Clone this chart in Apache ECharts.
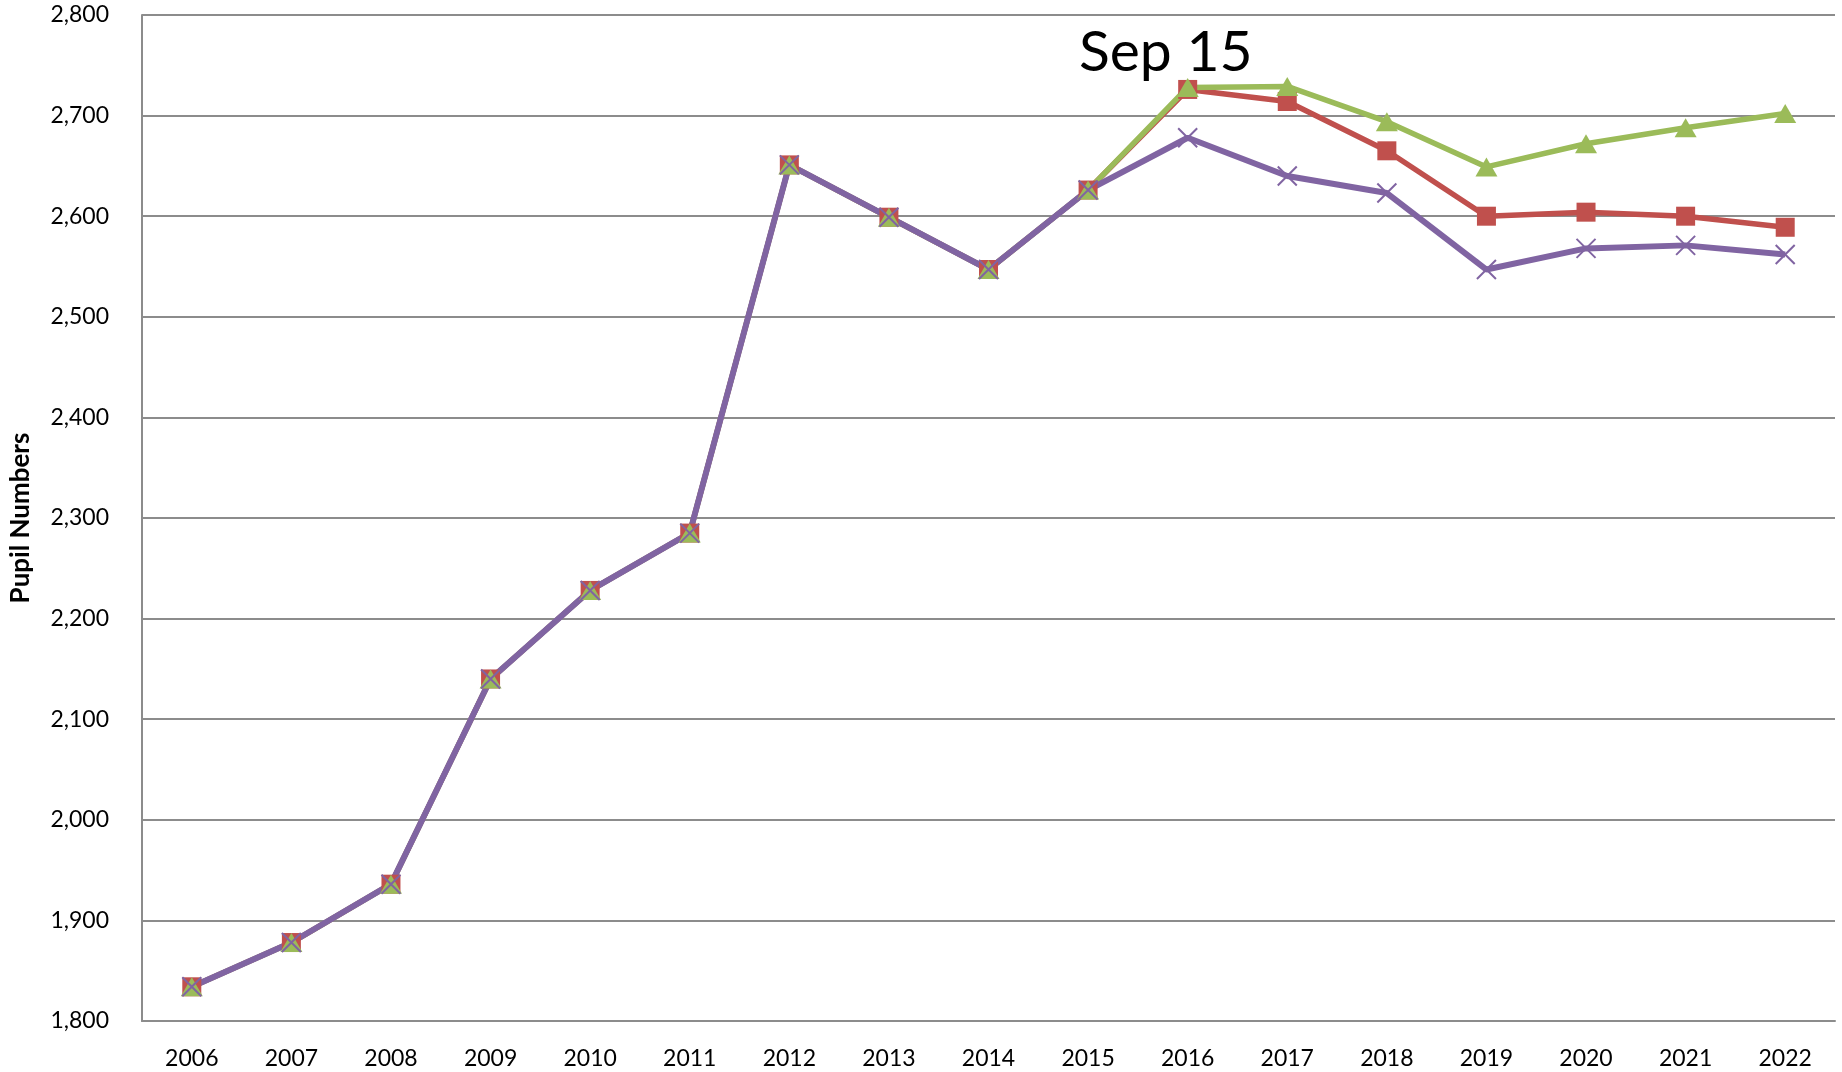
<!DOCTYPE html>
<html>
<head>
<meta charset="utf-8">
<title>Pupil Numbers</title>
<script src="https://cdn.jsdelivr.net/npm/echarts@6/dist/echarts.min.js"></script>
<style>
  html, body { margin: 0; padding: 0; background: #fff; }
  #chart { width: 1842px; height: 1072px; }
</style>
</head>
<body>
<div id="chart"></div>
<script>
// years on the x axis
const years = ['2006', '2007', '2008', '2009', '2010', '2011', '2012', '2013', '2014',
  '2015', '2016', '2017', '2018', '2019', '2020', '2021', '2022']

// pupil numbers
const redSeries = [1834, 1878, 1936, 2140, 2228, 2285, 2651, 2599, 2547,
  2626, 2726, 2714, 2665, 2600, 2604, 2600, 2589]
const greenSeries = [1834, 1878, 1936, 2140, 2228, 2285, 2651, 2599, 2547,
  2626, 2728, 2729, 2694, 2649, 2672, 2688, 2702]
const purpleSeries = [1834, 1878, 1936, 2140, 2228, 2285, 2651, 2599, 2547,
  2626, 2678, 2640, 2623, 2547, 2568, 2571, 2562]

const FONT = 'Lato'
const GRID_GREY = '#8c8c8c'

const chart = echarts.init(document.getElementById('chart'))

const option = {
  backgroundColor: '#fff',
  animation: false,
  title: {
    text: 'Sep 15',
    left: 1074,
    top: 19,
    textStyle: { fontFamily: FONT, fontSize: 57, fontWeight: 'normal', color: '#000' }
  },
  grid: {
    left: 141,
    right: 7,
    top: 15,
    bottom: 51
  },
  xAxis: {
    type: 'category',
    data: years,
    boundaryGap: true,
    axisTick: { show: false },
    axisLine: { lineStyle: { color: GRID_GREY, width: 2 } },
    axisLabel: {
      interval: 0,
      margin: 26,
      color: '#000',
      fontFamily: FONT,
      fontSize: 23
    }
  },
  yAxis: {
    type: 'value',
    min: 1800,
    max: 2800,
    interval: 100,
    name: 'Pupil Numbers',
    nameLocation: 'middle',
    nameRotate: 90,
    nameGap: 108,
    nameTextStyle: { fontFamily: FONT, fontSize: 26, fontWeight: 'bold', color: '#000' },
    axisLine: { show: true, lineStyle: { color: GRID_GREY, width: 2 } },
    axisTick: { show: false },
    splitLine: { lineStyle: { color: GRID_GREY, width: 2 } },
    axisLabel: {
      margin: 33,
      color: '#000',
      fontFamily: FONT,
      fontSize: 23,
      formatter: function (v) { return v.toLocaleString('en-US') }
    }
  },
  series: [
    {
      name: 'Red',
      type: 'line',
      data: redSeries,
      symbol: 'rect',
      symbolSize: 19,
      lineStyle: { color: '#C0504D', width: 5.5 },
      itemStyle: { color: '#C0504D' }
    },
    {
      name: 'Green',
      type: 'line',
      data: greenSeries,
      symbol: 'triangle',
      symbolSize: [22, 19],
      lineStyle: { color: '#9BBB59', width: 5.5 },
      itemStyle: { color: '#9BBB59' }
    },
    {
      name: 'Purple',
      type: 'line',
      data: purpleSeries,
      symbol: 'path://M0,0L10,10M10,0L0,10',
      symbolSize: 19,
      lineStyle: { color: '#8064A2', width: 6 },
      itemStyle: { color: '#8064A2', borderColor: '#8064A2', borderWidth: 2 }
    }
  ]
}

chart.setOption(option)
</script>
</body>
</html>
